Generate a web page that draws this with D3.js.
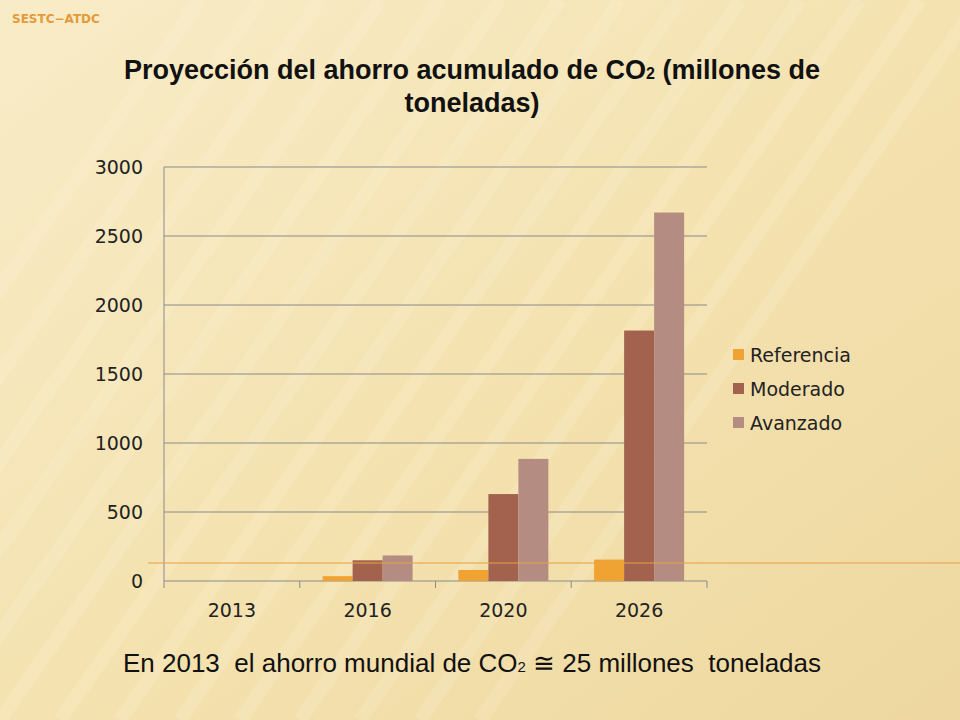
<!DOCTYPE html>
<html><head><meta charset="utf-8">
<script src="https://cdn.jsdelivr.net/npm/d3@7"></script>
<style>body{margin:0}svg{display:block}</style>
</head><body>
<svg id="chart" width="960" height="720"></svg>
<script>
const years = ['2013', '2016', '2020', '2026']
const series = ['Referencia', 'Moderado', 'Avanzado']
const referencia = [0, 35, 80, 155]
const moderado = [0, 150, 630, 1815]
const avanzado = [0, 185, 885, 2670]
const colors = ['#f0a232', '#a2624e', '#b58c82']
const yTicks = [0, 500, 1000, 1500, 2000, 2500, 3000]

main()

function main() {
  const svg = d3.select('#chart')
  const values = [referencia, moderado, avanzado]

  // background
  const defs = svg.append('defs')
  const grad = defs.append('linearGradient').attr('id', 'bg')
    .attr('x1', 0).attr('y1', 0).attr('x2', 1).attr('y2', 1)
  grad.append('stop').attr('offset', 0).attr('stop-color', '#f8ecc8')
  grad.append('stop').attr('offset', 0.5).attr('stop-color', '#f4e2b0')
  grad.append('stop').attr('offset', 1).attr('stop-color', '#eed8a0')
  svg.append('rect').attr('width', 960).attr('height', 720).attr('fill', 'url(#bg)')
  for (let i = 0; i < 14; i++) {
    svg.append('line')
      .attr('x1', 200 + i * 60).attr('y1', 0).attr('x2', -300 + i * 60).attr('y2', 720)
      .attr('stroke', '#fff8e0').attr('stroke-width', 14).attr('opacity', 0.18)
  }

  svg.append('text').attr('x', 12).attr('y', 23).text('SESTC−ATDC')
    .attr('font-family', 'DejaVu Sans').attr('font-size', 12).attr('font-weight', 'bold')
    .attr('fill', '#e49a3a')

  const title = svg.append('text').attr('text-anchor', 'middle')
    .attr('font-family', 'Liberation Sans').attr('font-size', 27).attr('font-weight', 'bold')
    .attr('fill', '#111')
  const l1 = title.append('tspan').attr('x', 472).attr('y', 79)
  l1.append('tspan').text('Proyección del ahorro acumulado de CO')
  l1.append('tspan').text('2').attr('font-size', 16)
  l1.append('tspan').text(' (millones de')
  title.append('tspan').attr('x', 472).attr('y', 112).text('toneladas)')

  const x0 = 164, x1 = 707, yTop = 167, yBot = 581
  const x = d3.scaleBand().domain(years).range([x0, x1])
  const xs = d3.scaleBand().domain(series).range([0, 90])
  const y = d3.scaleLinear().domain([0, 3000]).range([yBot, yTop])

  const g = svg.append('g')
  g.selectAll('line.grid').data(yTicks).enter().append('line')
    .attr('x1', x0).attr('x2', x1).attr('y1', d => y(d)).attr('y2', d => y(d))
    .attr('stroke', '#8a8a8a').attr('stroke-width', 1)
  g.append('line').attr('x1', x0).attr('x2', x0).attr('y1', yTop).attr('y2', yBot).attr('stroke', '#8a8a8a')
  g.selectAll('line.xt').data(d3.range(years.length + 1)).enter().append('line')
    .attr('x1', i => x0 + i * x.bandwidth()).attr('x2', i => x0 + i * x.bandwidth())
    .attr('y1', yBot).attr('y2', yBot + 7).attr('stroke', '#8a8a8a')

  g.selectAll('text.yl').data(yTicks).enter().append('text')
    .attr('x', 143).attr('y', d => y(d) + 7).attr('text-anchor', 'end')
    .attr('font-family', 'DejaVu Sans').attr('font-size', 19).attr('fill', '#222').text(d => d)
  g.selectAll('text.xl').data(years).enter().append('text')
    .attr('x', d => x(d) + x.bandwidth() / 2).attr('y', 617).attr('text-anchor', 'middle')
    .attr('font-family', 'DejaVu Sans').attr('font-size', 19).attr('fill', '#222').text(d => d)

  series.forEach((s, si) => {
    g.selectAll(null).data(years).enter().append('rect')
      .attr('x', d => x(d) + x.bandwidth() / 2 - 45 + xs(s))
      .attr('width', xs.bandwidth())
      .attr('y', (d, i) => y(values[si][i]))
      .attr('height', (d, i) => yBot - y(values[si][i]))
      .attr('fill', colors[si])
  })

  // orange line
  svg.append('line').attr('x1', 148).attr('x2', 960).attr('y1', 563).attr('y2', 563)
    .attr('stroke', '#e8a040').attr('stroke-width', 1.2)

  const leg = svg.append('g')
  series.forEach((s, i) => {
    leg.append('rect').attr('x', 733).attr('y', 349 + i * 34).attr('width', 11).attr('height', 11).attr('fill', colors[i])
    leg.append('text').attr('x', 750).attr('y', 362 + i * 34).text(s)
      .attr('font-family', 'DejaVu Sans').attr('font-size', 19).attr('fill', '#222')
  })

  const bt = svg.append('text').attr('x', 472).attr('y', 672).attr('text-anchor', 'middle')
    .attr('xml:space', 'preserve').style('white-space', 'pre')
    .attr('font-family', 'Liberation Sans').attr('font-size', 26).attr('fill', '#111')
  bt.append('tspan').text('En 2013  el ahorro mundial de CO')
  bt.append('tspan').text('2').attr('font-size', 15)
  bt.append('tspan').text(' ≅ 25 millones  toneladas')
}
</script>
</body></html>
